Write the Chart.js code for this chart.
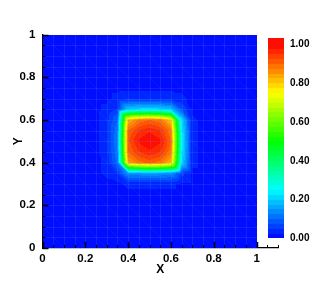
<!DOCTYPE html>
<html>
<head>
<meta charset="utf-8">
<script src="https://cdn.jsdelivr.net/npm/chart.js@4/dist/chart.umd.min.js"></script>
<style>
html,body{margin:0;padding:0;background:#fff;}
#c{display:block;}
</style>
</head>
<body>
<canvas id="c" width="316" height="281"></canvas>
<script>
// ---- data ----
const xNodes = [0.25, 0.30, 0.35, 0.40, 0.45, 0.50, 0.55, 0.60, 0.65, 0.70, 0.75];
const yNodes = [0.75, 0.70, 0.65, 0.60, 0.55, 0.50, 0.45, 0.40, 0.35, 0.30, 0.25]; // rows top -> bottom
const fieldRows = [
  [0.02,0.02,0.02,0.02,0.02,0.02,0.02,0.02,0.02,0.02,0.02],
  [0.02,0.02,0.03,0.04,0.04,0.04,0.04,0.04,0.03,0.02,0.02],
  [0.02,0.03,0.05,0.20,0.21,0.22,0.21,0.19,0.08,0.02,0.02],
  [0.02,0.04,0.10,0.82,0.88,0.90,0.88,0.80,0.22,0.03,0.02],
  [0.02,0.04,0.12,0.90,0.95,0.97,0.95,0.88,0.24,0.03,0.02],
  [0.02,0.04,0.13,0.92,0.98,1.00,0.98,0.90,0.25,0.03,0.02],
  [0.02,0.04,0.12,0.90,0.95,0.97,0.95,0.88,0.24,0.03,0.02],
  [0.02,0.03,0.11,0.84,0.89,0.91,0.89,0.82,0.22,0.03,0.02],
  [0.02,0.03,0.05,0.15,0.15,0.16,0.15,0.14,0.06,0.02,0.02],
  [0.02,0.02,0.02,0.03,0.03,0.03,0.03,0.03,0.02,0.02,0.02],
  [0.02,0.02,0.02,0.02,0.02,0.02,0.02,0.02,0.02,0.02,0.02]
];
const backgroundValue = 0.02;
const domainMax = 1.0;
const axisTickValues = [0, 0.2, 0.4, 0.6, 0.8, 1];
const colorbarTicks = [0, 0.2, 0.4, 0.6, 0.8, 1.0];
const colorLevels = 40;

// ---- colour map (rainbow) ----
const stops = [[0,[0,0,255]],[0.25,[0,255,255]],[0.5,[0,255,0]],[0.75,[255,255,0]],[1,[255,0,0]]];
function cmap(v){
  v = Math.max(0, Math.min(1, v));
  for (let i=0;i<stops.length-1;i++){
    const a=stops[i], b=stops[i+1];
    if (v<=b[0]){
      const t=(v-a[0])/(b[0]-a[0]);
      return [0,1,2].map(k=>Math.round(a[1][k]+(b[1][k]-a[1][k])*t));
    }
  }
  return stops[stops.length-1][1];
}
function bandColor(v){
  let lv = Math.floor(v*colorLevels);
  if (lv>=colorLevels) lv=colorLevels-1;
  if (lv<0) lv=0;
  return cmap((lv+0.5)/colorLevels);
}

// triangulated (\ diagonals) linear interpolation of the node field
const yAsc = yNodes.slice().reverse();
const rowsAsc = fieldRows.slice().reverse();
function fieldAt(x,y){
  const n = xNodes.length, m = yAsc.length;
  if (x<xNodes[0]||x>xNodes[n-1]||y<yAsc[0]||y>yAsc[m-1]) return backgroundValue;
  let i=0; while(i<n-2 && x>xNodes[i+1]) i++;
  let j=0; while(j<m-2 && y>yAsc[j+1]) j++;
  const u=(x-xNodes[i])/(xNodes[i+1]-xNodes[i]);
  const v=(y-yAsc[j])/(yAsc[j+1]-yAsc[j]);
  const f00=rowsAsc[j][i], f10=rowsAsc[j][i+1], f01=rowsAsc[j+1][i], f11=rowsAsc[j+1][i+1];
  if (u+v<=1) return f00+u*(f10-f00)+v*(f01-f00);
  return f11+(1-u)*(f01-f11)+(1-v)*(f10-f11);
}

const fieldPlugin = {
  id:'field',
  beforeDatasetsDraw(chart){
    const ctx=chart.ctx, xs=chart.scales.x, ys=chart.scales.y;
    const px0=Math.round(xs.getPixelForValue(0)), px1=Math.round(xs.getPixelForValue(domainMax));
    const py0=Math.round(ys.getPixelForValue(domainMax)), py1=Math.round(ys.getPixelForValue(0));
    const w=px1-px0, h=py1-py0;
    const img=ctx.createImageData(w,h);
    for (let r=0;r<h;r++){
      const yv=ys.getValueForPixel(py0+r+0.5);
      for (let c=0;c<w;c++){
        const xv=xs.getValueForPixel(px0+c+0.5);
        const col=bandColor(fieldAt(xv,yv));
        const k=(r*w+c)*4;
        img.data[k]=col[0]; img.data[k+1]=col[1]; img.data[k+2]=col[2]; img.data[k+3]=255;
      }
    }
    ctx.putImageData(img,px0,py0);
    // faint mesh lines
    ctx.save();
    ctx.beginPath(); ctx.rect(px0,py0,w,h); ctx.clip();
    ctx.strokeStyle='rgba(110,140,255,0.16)';
    ctx.lineWidth=1;
    for (let i=1;i<20;i++){
      const t=i*0.05;
      const X=Math.round(xs.getPixelForValue(t))+0.5, Y=Math.round(ys.getPixelForValue(t))+0.5;
      ctx.beginPath(); ctx.moveTo(X,py0); ctx.lineTo(X,py1); ctx.stroke();
      ctx.beginPath(); ctx.moveTo(px0,Y); ctx.lineTo(px1,Y); ctx.stroke();
    }
    ctx.strokeStyle='rgba(110,140,255,0.10)';
    for (let i=-20;i<=20;i++){
      const t=i*0.1;
      ctx.beginPath();
      ctx.moveTo(xs.getPixelForValue(t), ys.getPixelForValue(1));
      ctx.lineTo(xs.getPixelForValue(t+1), ys.getPixelForValue(0));
      ctx.stroke();
    }
    ctx.restore();
  },
  afterDraw(chart){
    const ctx=chart.ctx, xs=chart.scales.x, ys=chart.scales.y;
    const ca=chart.chartArea;
    ctx.save();
    ctx.strokeStyle='#000';
    // inward ticks
    for (let i=0;i<=22;i++){
      const t=i*0.05; const major=(i%4===0);
      const X=Math.round(xs.getPixelForValue(t))+0.5;
      ctx.lineWidth=major?1.5:1;
      ctx.beginPath(); ctx.moveTo(X,ca.bottom); ctx.lineTo(X,ca.bottom-(major?6:3)); ctx.stroke();
    }
    for (let i=0;i<=20;i++){
      const t=i*0.05; const major=(i%4===0);
      const Y=Math.round(ys.getPixelForValue(t))+0.5;
      ctx.lineWidth=major?1.5:1;
      ctx.beginPath(); ctx.moveTo(ca.left,Y); ctx.lineTo(ca.left+(major?6:3),Y); ctx.stroke();
    }
    // colour bar (legend)
    const cbL=268, cbR=284, cbB=238, cbPerUnit=194, cbTopVal=1.026;
    const n=colorLevels;
    for (let k=0;k<n;k++){
      const v0=k/n, v1=(k+1)/n;
      const col=cmap((k+0.5)/n);
      ctx.fillStyle='rgb('+col.join(',')+')';
      const yTop=cbB-Math.min(v1*(k===n-1?cbTopVal:1),cbTopVal)*cbPerUnit;
      const yBot=cbB-v0*cbPerUnit;
      ctx.fillRect(cbL,Math.floor(yTop),cbR-cbL,Math.ceil(yBot)-Math.floor(yTop));
    }
    ctx.fillStyle='#000';
    ctx.font='bold 10px "Liberation Sans", Arial, sans-serif';
    ctx.textAlign='left'; ctx.textBaseline='middle';
    colorbarTicks.forEach(v=>{
      ctx.fillText(v.toFixed(2), 290, cbB-v*cbPerUnit+0.5);
    });
    ctx.restore();
  }
};

const nodePoints=[];
yNodes.forEach((y,r)=>xNodes.forEach((x,c)=>nodePoints.push({x:x,y:y,v:fieldRows[r][c]})));

const tickFont={family:'"Liberation Sans", Arial, sans-serif', size:11.5, weight:'bold'};
const fmt = v => String(Math.round(v*10)/10);
new Chart(document.getElementById('c'),{
  type:'scatter',
  data:{datasets:[{data:nodePoints,pointRadius:0,showLine:false}]},
  options:{
    responsive:false, animation:false, devicePixelRatio:1,
    layout:{padding:{left:0,right:38,top:34.5,bottom:0}},
    plugins:{legend:{display:false},tooltip:{enabled:false}},
    scales:{
      x:{type:'linear',min:0,max:1.1,
        afterBuildTicks(s){ s.ticks = axisTickValues.map(v=>({value:v})); },
        afterFit(s){ s.height=33; },
        ticks:{color:'#000',font:tickFont,padding:4,maxRotation:0,autoSkip:false,callback:fmt},
        grid:{display:false,drawTicks:false},
        border:{display:true,color:'#000',width:1.3},
        title:{display:true,text:'X',color:'#000',font:{family:'"Liberation Sans", Arial, sans-serif',size:12,weight:'bold'},padding:{top:0,bottom:4}}
      },
      y:{type:'linear',min:0,max:1,
        afterBuildTicks(s){ s.ticks = axisTickValues.map(v=>({value:v})); },
        afterFit(s){ s.width=42.5; },
        ticks:{color:'#000',font:tickFont,padding:7,autoSkip:false,callback:fmt},
        grid:{display:false,drawTicks:false},
        border:{display:true,color:'#000',width:1.3},
        title:{display:true,text:'Y',color:'#000',font:{family:'"Liberation Sans", Arial, sans-serif',size:12,weight:'bold'},padding:{top:11,bottom:0}}
      }
    }
  },
  plugins:[fieldPlugin]
});
</script>
</body>
</html>
